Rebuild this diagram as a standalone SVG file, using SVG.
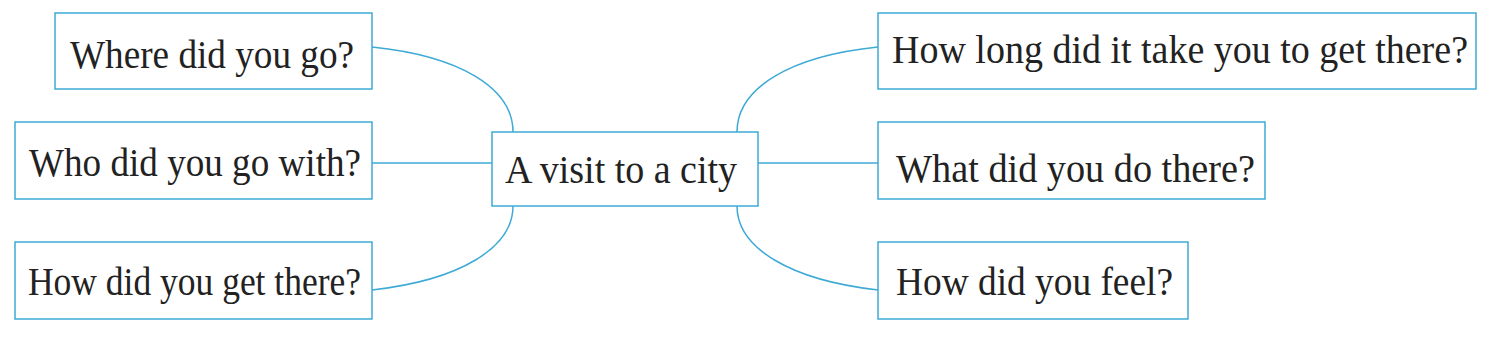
<svg xmlns="http://www.w3.org/2000/svg" width="1497" height="340" viewBox="0 0 1497 340">
<style>
.box{fill:#fff;stroke:#3eaad6;stroke-width:1.5}
.lbl{font-family:"Liberation Serif","Times New Roman",serif;font-size:40px;fill:#222}
.con{fill:none;stroke:#3eaad6;stroke-width:1.5}
</style>
<rect width="1497" height="340" fill="#fff"/>
<g id="connectors">
<path class="con" d="M372,47 C460,56 513,88 513,132"/>
<path class="con" d="M372,163 L492,163"/>
<path class="con" d="M372,290 C460,280 513,248 513,206"/>
<path class="con" d="M878,47 C790,56 737,88 737,132"/>
<path class="con" d="M758,163 L878,163"/>
<path class="con" d="M878,290 C790,280 737,248 737,206"/>
</g>
<g id="center">
<rect class="box" x="492" y="132" width="266" height="74"/>
<text class="lbl" x="505" y="183" textLength="232" lengthAdjust="spacingAndGlyphs">A visit to a city</text>
</g>
<g id="where">
<rect class="box" x="55" y="13" width="317" height="76"/>
<text class="lbl" x="70" y="68" textLength="284" lengthAdjust="spacingAndGlyphs">Where did you go?</text>
</g>
<g id="who">
<rect class="box" x="15" y="122" width="357" height="77"/>
<text class="lbl" x="29" y="176" textLength="332" lengthAdjust="spacingAndGlyphs">Who did you go with?</text>
</g>
<g id="how">
<rect class="box" x="15" y="242" width="357" height="77"/>
<text class="lbl" x="28" y="295" textLength="333" lengthAdjust="spacingAndGlyphs">How did you get there?</text>
</g>
<g id="howlong">
<rect class="box" x="878" y="13" width="598" height="76"/>
<text class="lbl" x="892" y="63" textLength="576" lengthAdjust="spacingAndGlyphs">How long did it take you to get there?</text>
</g>
<g id="what">
<rect class="box" x="878" y="122" width="387" height="77"/>
<text class="lbl" x="896" y="182" textLength="359" lengthAdjust="spacingAndGlyphs">What did you do there?</text>
</g>
<g id="feel">
<rect class="box" x="878" y="242" width="310" height="77"/>
<text class="lbl" x="896" y="295" textLength="277" lengthAdjust="spacingAndGlyphs">How did you feel?</text>
</g>
</svg>
